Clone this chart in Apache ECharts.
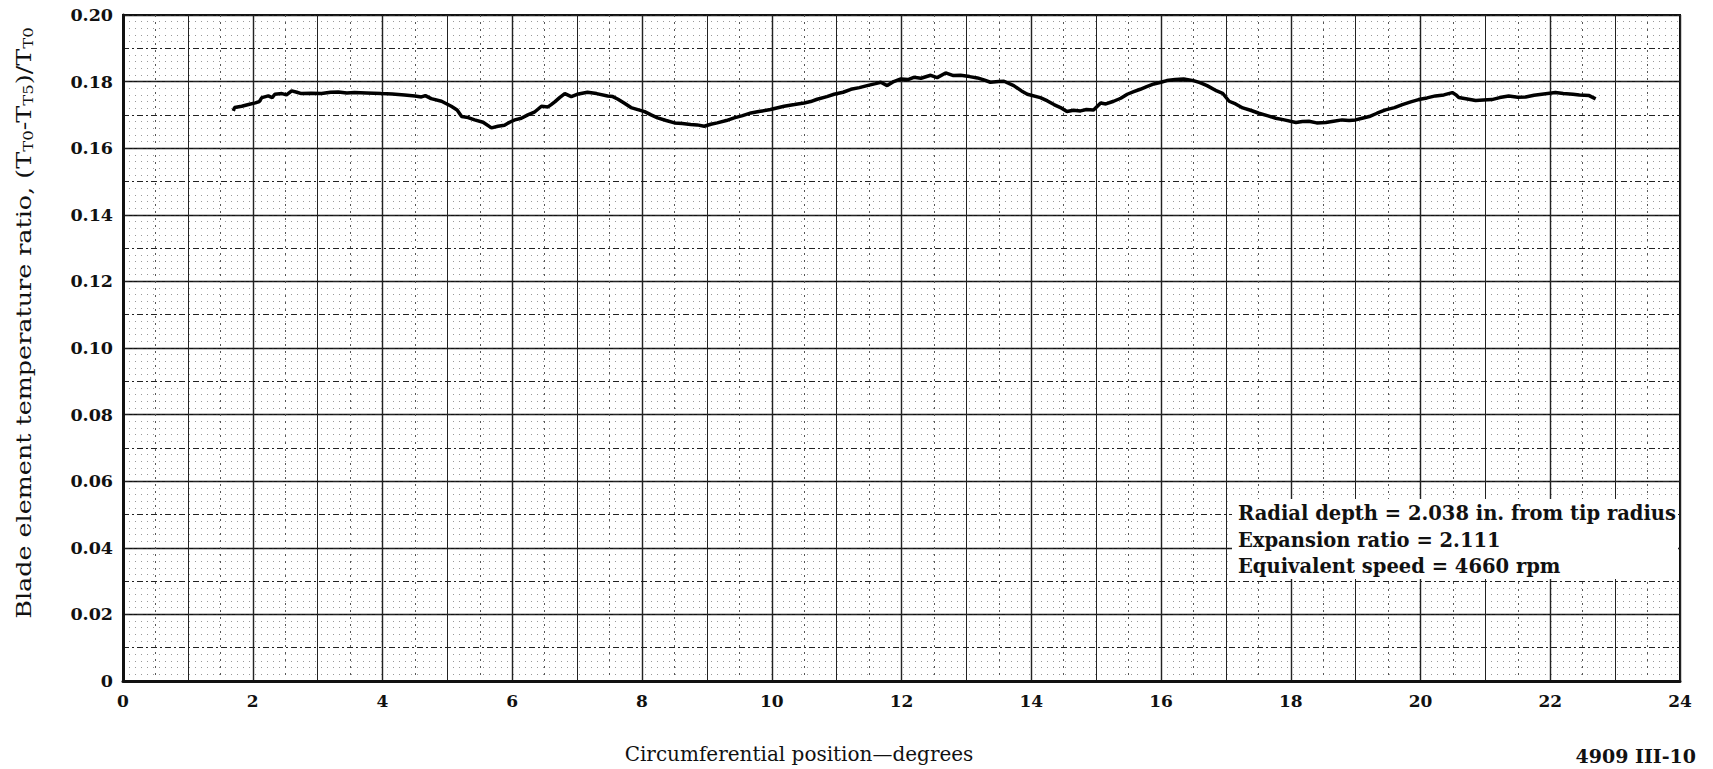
<!DOCTYPE html>
<html>
<head>
<meta charset="utf-8">
<script src="https://cdn.jsdelivr.net/npm/echarts@6/dist/echarts.min.js"></script>
<style>
html,body{margin:0;padding:0;background:#fff;}
#chart{width:1713px;height:769px;}
</style>
</head>
<body>
<div id="chart"></div>
<script>
// Circumferential position (degrees)
const positionDeg = [
1.70,1.72,1.83,1.95,2.04,2.10,2.14,2.24,2.30,2.34,2.45,2.52,2.60,2.68,2.75,2.90,3.06,3.20,3.32,3.45,
3.57,3.75,3.98,4.15,4.34,4.50,4.60,4.66,4.75,4.91,5.06,5.15,5.22,5.32,5.42,5.55,5.68,5.78,5.88,5.96,
6.04,6.14,6.24,6.34,6.45,6.55,6.60,6.66,6.73,6.81,6.91,7.00,7.16,7.30,7.47,7.55,7.63,7.73,7.83,8.04,
8.14,8.24,8.36,8.50,8.62,8.75,8.85,8.96,9.06,9.16,9.30,9.42,9.55,9.68,9.80,9.98,10.19,10.35,10.50,10.60,
10.70,10.85,10.96,11.10,11.22,11.35,11.47,11.60,11.68,11.78,11.88,11.99,12.10,12.19,12.30,12.45,12.55,12.68,12.80,12.91,
13.05,13.17,13.27,13.37,13.50,13.58,13.73,13.85,13.94,14.14,14.25,14.35,14.45,14.55,14.65,14.76,14.85,14.96,15.07,15.15,
15.27,15.38,15.48,15.58,15.68,15.78,15.89,16.00,16.09,16.22,16.35,16.50,16.60,16.71,16.86,16.95,17.05,17.15,17.26,17.38,
17.51,17.65,17.77,17.90,18.08,18.18,18.28,18.40,18.54,18.66,18.79,18.90,19.00,19.10,19.21,19.33,19.46,19.60,19.72,19.85,
19.97,20.10,20.23,20.36,20.49,20.55,20.59,20.72,20.85,20.97,21.10,21.22,21.36,21.50,21.62,21.75,21.87,22.08,22.20,22.35,
22.45,22.60,22.70
];
// Blade element temperature ratio
const tempRatio = [
0.1712,0.1722,0.1726,0.1732,0.1736,0.1740,0.1752,0.1757,0.1752,0.1762,0.1764,0.1760,0.1772,0.1768,0.1764,0.1765,0.1764,0.1768,0.1769,0.1766,
0.1767,0.1766,0.1764,0.1763,0.1760,0.1757,0.1754,0.1758,0.1749,0.1741,0.1726,0.1715,0.1695,0.1692,0.1685,0.1678,0.1661,0.1666,0.1669,0.1678,
0.1685,0.1690,0.1700,0.1708,0.1726,0.1724,0.1731,0.1740,0.1752,0.1764,0.1755,0.1762,0.1768,0.1764,0.1757,0.1755,0.1747,0.1735,0.1722,0.1710,
0.1700,0.1691,0.1684,0.1676,0.1674,0.1671,0.1670,0.1666,0.1672,0.1676,0.1683,0.1691,0.1698,0.1706,0.1710,0.1716,0.1726,0.1731,0.1736,0.1740,
0.1747,0.1755,0.1762,0.1768,0.1777,0.1782,0.1788,0.1794,0.1798,0.1788,0.1800,0.1808,0.1806,0.1813,0.1810,0.1819,0.1812,0.1826,0.1818,0.1819,
0.1815,0.1811,0.1805,0.1798,0.1800,0.1801,0.1788,0.1772,0.1762,0.1752,0.1742,0.1731,0.1722,0.1710,0.1714,0.1712,0.1716,0.1715,0.1736,0.1733,
0.1741,0.1750,0.1762,0.1770,0.1777,0.1785,0.1793,0.1798,0.1803,0.1806,0.1808,0.1803,0.1797,0.1788,0.1772,0.1765,0.1741,0.1733,0.1721,0.1714,
0.1705,0.1697,0.1690,0.1685,0.1677,0.1680,0.1681,0.1676,0.1677,0.1681,0.1685,0.1683,0.1685,0.1690,0.1695,0.1705,0.1715,0.1722,0.1731,0.1739,
0.1746,0.1751,0.1757,0.1760,0.1767,0.1760,0.1752,0.1748,0.1743,0.1745,0.1746,0.1752,0.1757,0.1753,0.1754,0.1759,0.1762,0.1767,0.1764,0.1762,
0.1760,0.1758,0.1748
];
const xTickLabels = ['0','2','4','6','8','10','12','14','16','18','20','22','24'];
const yTickLabels = ['0','0.02','0.04','0.06','0.08','0.10','0.12','0.14','0.16','0.18','0.20'];
const notes = ['Radial depth = 2.038 in. from tip radius','Expansion ratio = 2.111','Equivalent speed = 4660 rpm'];

const serif = '"DejaVu Serif", "Liberation Serif", serif';
const chart = echarts.init(document.getElementById('chart'), null, {renderer:'svg'});
const data = positionDeg.map((x,i)=>[x,tempRatio[i]]);

chart.setOption({
  animation:false,
  backgroundColor:'#fff',
  grid:{left:123,right:33,top:15,bottom:88,show:true,borderColor:'#111',borderWidth:2,backgroundColor:'transparent'},
  xAxis:[
    {type:'value',min:0,max:24,interval:2,
     axisLine:{show:true,lineStyle:{color:'#111',width:3}},
     axisTick:{show:false},
     axisLabel:{margin:11,color:'#111',fontFamily:serif,fontWeight:'bold',fontSize:17,
       formatter:(v)=>xTickLabels[Math.round(v/2)]},
     splitLine:{show:true,lineStyle:{color:'#111',width:1.4}}},
    {type:'value',min:0,max:24,interval:1,position:'top',
     axisLine:{show:false},axisTick:{show:false},axisLabel:{show:false},
     splitLine:{show:true,lineStyle:{color:'#222',width:1}},
     minorTick:{show:false,splitNumber:2},
     minorSplitLine:{show:true,lineStyle:{color:'#555',width:1,type:[2,5]}}}
  ],
  yAxis:[
    {type:'value',min:0,max:0.2,interval:0.02,
     axisLine:{show:true,lineStyle:{color:'#111',width:3}},
     axisTick:{show:false},
     axisLabel:{margin:10,color:'#111',fontFamily:serif,fontWeight:'bold',fontSize:17.5,
       formatter:(v)=>yTickLabels[Math.round(v/0.02)]},
     splitLine:{show:true,lineStyle:{color:'#111',width:1.4}}},
    {type:'value',min:0,max:0.2,interval:0.01,position:'right',
     axisLine:{show:false},axisTick:{show:false},axisLabel:{show:false},
     splitLine:{show:true,lineStyle:{color:'#222',width:1,type:[6,3,2,3]}},
     minorTick:{show:false,splitNumber:5},
     minorSplitLine:{show:true,lineStyle:{color:'#999',width:1,type:[1,5]}}}
  ],
  series:[{
    type:'line',xAxisIndex:0,yAxisIndex:0,data:data,
    showSymbol:false,smooth:false,
    lineStyle:{color:'#000',width:3.5},z:5
  }],
  graphic:[
    {type:'text',x:24,y:323,rotation:Math.PI/2,scaleX:1.27,z:10,
     style:{text:'Blade element temperature ratio, (T{s|T0}-T{s|T5})/T{s|T0}',
       fill:'#111',font:'20px '+serif,align:'center',verticalAlign:'middle',
       rich:{s:{fontSize:13,fontFamily:serif,fill:'#111',padding:[9,0,0,0],verticalAlign:'bottom'}}}},
    {type:'text',x:799,y:754,z:10,
     style:{text:'Circumferential position\u2014degrees',fill:'#111',font:'20px '+serif,align:'center',verticalAlign:'middle'}},
    {type:'text',x:1696,y:756,z:10,
     style:{text:'4909 III-10',fill:'#111',font:'bold 19px '+serif,align:'right',verticalAlign:'middle'}},
    {type:'rect',shape:{x:1232,y:499,width:446,height:80},z:10,style:{fill:'#fff'}},
    {type:'text',x:1238,y:513,z:11,style:{text:notes[0],fill:'#111',font:'bold 19.5px '+serif,verticalAlign:'middle'}},
    {type:'text',x:1238,y:540,z:11,style:{text:notes[1],fill:'#111',font:'bold 19.5px '+serif,verticalAlign:'middle'}},
    {type:'text',x:1238,y:566,z:11,style:{text:notes[2],fill:'#111',font:'bold 19.5px '+serif,verticalAlign:'middle'}}
  ]
});
</script>
</body>
</html>
